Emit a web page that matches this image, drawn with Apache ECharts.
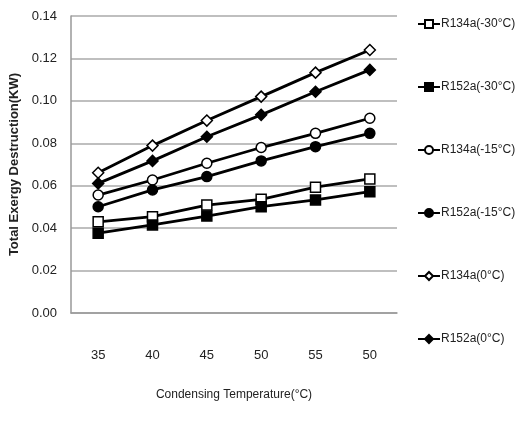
<!DOCTYPE html>
<html><head><meta charset="utf-8">
<script src="https://cdn.jsdelivr.net/npm/echarts@6/dist/echarts.min.js"></script>
<style>html,body{margin:0;padding:0;background:#fff}#c{width:522px;height:426px}</style>
</head><body><div id="c"></div>
<script>
const categories = ['35','40','45','50','55','60'];
const categoryLabels = ['35','40','45','50','55','50'];
const r134a_m30 = [0.043, 0.0454, 0.0509, 0.0536, 0.0593, 0.0632];
const r152a_m30 = [0.0376, 0.0415, 0.0457, 0.0501, 0.0533, 0.0572];
const r134a_m15 = [0.0556, 0.0627, 0.0706, 0.078, 0.0847, 0.0918];
const r152a_m15 = [0.0501, 0.058, 0.0643, 0.0717, 0.0784, 0.0847];
const r134a_0 = [0.0661, 0.0789, 0.0907, 0.102, 0.1133, 0.124];
const r152a_0 = [0.0611, 0.0717, 0.0831, 0.0934, 0.1043, 0.1146];
const seriesNames = ['R134a(-30°C)','R152a(-30°C)','R134a(-15°C)','R152a(-15°C)','R134a(0°C)','R152a(0°C)'];
const yTicks = [0, 0.02, 0.04, 0.06, 0.08, 0.10, 0.12, 0.14];

const FONT = '"Liberation Sans Narrow", "Liberation Sans", sans-serif';
const defs = [
  {d: r134a_m30, sym: 'rect', fill: '#fff', size: 10},
  {d: r152a_m30, sym: 'rect', fill: '#000', size: 10},
  {d: r134a_m15, sym: 'circle', fill: '#fff', size: 10},
  {d: r152a_m15, sym: 'circle', fill: '#000', size: 10},
  {d: r134a_0, sym: 'diamond', fill: '#fff', size: 11},
  {d: r152a_0, sym: 'diamond', fill: '#000', size: 11}
];
const series = defs.map((s, i) => ({
  name: seriesNames[i], type: 'line', data: s.d, symbol: s.sym, symbolSize: s.size,
  showAllSymbol: true,
  lineStyle: {color: '#000', width: 2.8},
  itemStyle: {color: s.fill, borderColor: '#000', borderWidth: 1.5},
  emphasis: {disabled: true}, animation: false
}));
const chart = echarts.init(document.getElementById('c'), null, {renderer: 'canvas'});
chart.setOption({
  animation: false,
  grid: {left: 71, right: 125, top: 16, bottom: 113, containLabel: false, outerBoundsMode: 'none'},
  legend: {
    orient: 'vertical', left: 412, top: 13, itemGap: 51, itemWidth: 22, itemHeight: 10,
    data: seriesNames, selectedMode: false,
    textStyle: {fontFamily: FONT, fontSize: 12, color: '#222', padding: [0,0,0,-4]}
  },
  xAxis: {
    type: 'category', data: categories, boundaryGap: true,
    name: 'Condensing Temperature(°C)', nameLocation: 'middle', nameGap: 76,
    nameTextStyle: {fontFamily: FONT, fontSize: 12, color: '#222'},
    axisLine: {show: true, lineStyle: {color: '#999', width: 1.5}},
    axisTick: {show: false},
    axisLabel: {margin: 36, fontFamily: FONT, fontSize: 13, color: '#222',
      formatter: (v, i) => categoryLabels[i]}
  },
  yAxis: {
    type: 'value', min: 0, max: 0.14, interval: 0.02,
    name: 'Total Exergy Destruction(KW)', nameLocation: 'middle', nameGap: 48,
    nameTextStyle: {fontFamily: FONT, fontSize: 13, fontWeight: 'bold', color: '#222'},
    axisLine: {show: true, lineStyle: {color: '#999', width: 1.5}},
    axisTick: {show: false},
    splitLine: {show: true, lineStyle: {color: '#aaa', width: 1.5}},
    axisLabel: {margin: 14, fontFamily: FONT, fontSize: 13, color: '#222',
      formatter: v => v.toFixed(2)}
  },
  series: series
});
</script></body></html>
